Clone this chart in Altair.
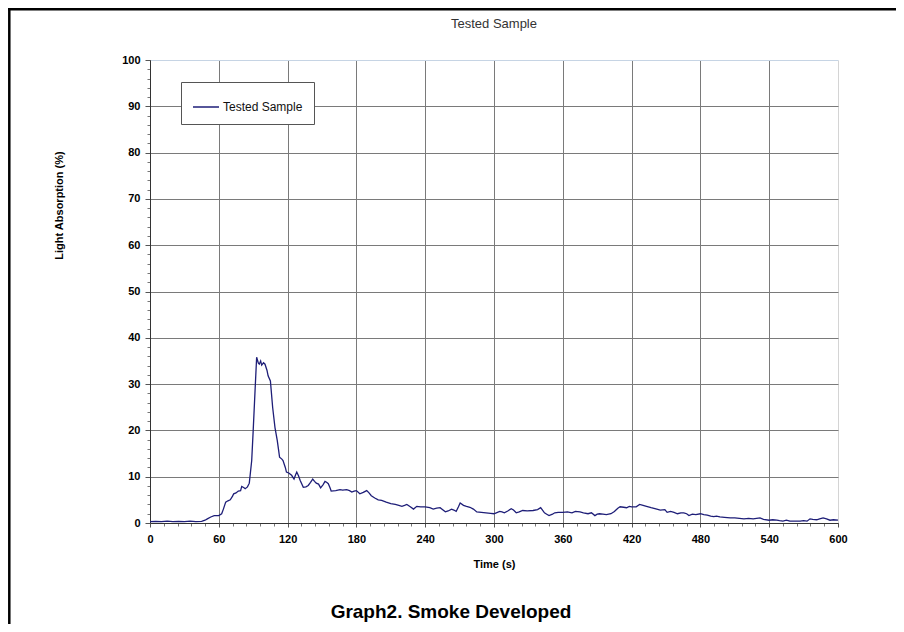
import altair as alt
import pandas as pd

series_name = "Tested Sample"

time_s = [0, 5, 10, 15, 20, 25, 30, 35, 40, 45, 48, 50, 53, 56, 60, 62.5, 64, 66, 68, 70,
          72, 73, 75, 77, 79, 80, 82, 83, 85, 86.6, 88.7, 90, 91.6, 93, 94.5, 95.3, 96.5, 97.4,
          99, 100.3, 102, 103, 105, 107, 109, 111, 112, 113, 115, 116, 118, 119, 121, 123.5,
          125.6, 127, 128, 129.5, 131, 133.7, 136, 138, 140, 141.9, 143.5, 145, 147, 148.8,
          151, 152.6, 154, 155.5, 157, 158, 162, 165.7, 168, 171.5, 174, 176, 178, 180, 183,
          186, 189, 191, 193, 196, 199, 202, 206, 210, 213.9, 217, 219.7, 222, 224, 227,
          229.8, 232.7, 236, 240, 244, 247, 250, 253, 255, 257.6, 260, 263, 265, 267, 269,
          270.5, 273.4, 276, 279, 282, 285, 289, 293, 297, 300, 302, 305, 307, 309, 312, 315,
          317, 319.4, 322, 325, 329, 334, 338, 340.7, 342, 344, 346, 348, 351, 353, 356, 360,
          364, 368, 371, 375, 378, 382, 385, 388, 390, 392, 395, 398, 402, 405, 408, 410, 413,
          415.6, 418, 420, 424, 427, 430, 433, 437, 442, 445, 449, 451, 454, 457, 460, 463,
          465.5, 468, 470, 473, 476, 480, 483, 486, 489, 491.6, 494, 497, 501, 506, 510, 514,
          518, 522, 526, 529, 532, 535, 540, 543, 546.7, 549, 552, 555, 558, 562, 567, 570,
          573, 575.6, 578, 581.4, 584, 587, 590, 593, 596, 600]

absorption = [0.3, 0.35, 0.3, 0.4, 0.3, 0.35, 0.3, 0.4, 0.3, 0.35, 0.6, 0.9, 1.3, 1.6, 1.6, 2.0,
              3.0, 4.5, 4.8, 5.0, 5.8, 6.3, 6.5, 6.9, 7.0, 7.9, 7.6, 7.4, 7.8, 8.6, 13.5, 20.0,
              28.5, 35.8, 34.5, 34.3, 35.0, 34.1, 34.6, 34.3, 33.0, 31.8, 30.7, 24.9, 20.6, 17.8,
              16.0, 14.2, 13.8, 13.5, 12.0, 11.0, 10.8, 10.3, 9.5, 10.4, 11.0, 10.2, 9.2, 7.7,
              7.8, 8.1, 8.8, 9.5, 9.0, 8.6, 8.4, 7.6, 8.3, 9.0, 8.8, 8.5, 7.6, 6.9, 7.0, 7.2,
              7.1, 7.2, 7.0, 6.7, 6.9, 7.0, 6.3, 6.6, 7.0, 6.5, 5.9, 5.4, 5.0, 4.9, 4.5, 4.2,
              4.0, 3.8, 3.6, 3.8, 4.0, 3.5, 3.0, 3.6, 3.5, 3.5, 3.3, 3.0, 3.2, 3.3, 2.9, 2.4,
              2.6, 3.0, 2.8, 2.5, 3.5, 4.3, 3.8, 3.6, 3.4, 3.0, 2.4, 2.3, 2.2, 2.1, 2.0, 2.2,
              2.5, 2.4, 2.2, 2.6, 3.1, 2.8, 2.2, 2.4, 2.7, 2.6, 2.7, 2.9, 3.3, 2.9, 2.2, 1.9,
              1.6, 1.9, 2.2, 2.3, 2.3, 2.4, 2.2, 2.5, 2.4, 2.2, 2.0, 2.2, 1.6, 1.9, 2.0, 1.9,
              1.8, 2.0, 2.5, 3.2, 3.5, 3.4, 3.3, 3.6, 3.5, 3.5, 4.0, 3.8, 3.6, 3.3, 3.0, 2.8,
              2.9, 2.3, 2.5, 2.3, 2.0, 2.2, 2.2, 2.0, 1.6, 1.9, 1.8, 2.0, 1.8, 1.7, 1.5, 1.4,
              1.5, 1.3, 1.2, 1.1, 1.1, 1.0, 0.9, 1.0, 0.9, 1.0, 1.1, 0.8, 0.6, 0.7, 0.6, 0.5,
              0.4, 0.6, 0.4, 0.4, 0.4, 0.5, 0.4, 0.9, 0.8, 0.7, 0.9, 1.1, 0.9, 0.6, 0.7, 0.6]

x_major = [0, 60, 120, 180, 240, 300, 360, 420, 480, 540, 600]
y_major = [0, 10, 20, 30, 40, 50, 60, 70, 80, 90, 100]
x_minor = list(range(0, 601, 12))
y_minor = list(range(0, 101, 2))

chart_title = "Tested Sample"
x_title = "Time (s)"
y_title = "Light Absorption (%)"
caption = "Graph2. Smoke Developed"

FONT = "Liberation Sans"
PAD_L, PAD_T, W, H = 142, 52, 688, 463
TOTAL_W, TOTAL_H = 888, 616

df = pd.DataFrame({"t": time_s, "v": absorption, "s": [series_name] * len(time_s)})

x_scale = alt.Scale(domain=[0, 600], nice=False, zero=False)
y_scale = alt.Scale(domain=[0, 100], nice=False, zero=False)

line = alt.Chart(df).mark_line(strokeWidth=1.3, color="#1e1e78").encode(
    x=alt.X("t:Q", scale=x_scale, axis=alt.Axis(
        orient="bottom", values=x_major, title=x_title, format="d", grid=True,
        labelFont=FONT, labelFontSize=11, labelFontWeight="bold", labelColor="#000",
        labelPadding=6, tickSize=4, tickColor="#555", domainColor="#333",
        titleFont=FONT, titleFontSize=11, titleFontWeight="bold", titleColor="#000",
        titlePadding=14, labelFlush=False,
        gridColor={"condition": {"test": "datum.value === 600", "value": "#d4d4d4"}, "value": "#7a7a7a"},
        gridWidth=1)),
    y=alt.Y("v:Q", scale=y_scale, axis=alt.Axis(
        orient="left", values=y_major, title=y_title, format="d", grid=True,
        labelFont=FONT, labelFontSize=11, labelFontWeight="bold", labelColor="#000",
        labelPadding=5, tickSize=5, tickColor="#555", domainColor="#333",
        titleFont=FONT, titleFontSize=11, titleFontWeight="bold", titleColor="#000",
        titleAngle=270, titleX=-91, titleY=145, titleAlign="center", titleBaseline="middle",
        labelFlush=False,
        gridColor={"condition": {"test": "datum.value === 100", "value": "#c6d4e4"}, "value": "#7a7a7a"},
        gridWidth=1)),
    color=alt.Color("s:N", scale=alt.Scale(range=["#1e1e78"]), legend=alt.Legend(
        title=None, orient="none", legendX=31, legendY=22, padding=11,
        strokeColor="#555", fillColor="#ffffff", symbolType="stroke", symbolSize=676,
        symbolStrokeWidth=1.5, labelFont=FONT, labelFontSize=12, labelColor="#111",
        labelOffset=3)),
)

minor = alt.Chart(df).mark_point(opacity=0).encode(
    x=alt.X("t:Q", scale=x_scale, axis=alt.Axis(
        orient="bottom", values=x_minor, labels=False, grid=False, domain=False,
        tickSize=3, tickColor="#777", title=None)),
    y=alt.Y("v:Q", scale=y_scale, axis=alt.Axis(
        orient="left", values=y_minor, labels=False, grid=False, domain=False,
        tickSize=3, tickColor="#777", title=None)),
)

one = pd.DataFrame({"k": [0]})
frame_left = alt.Chart(one).mark_rule(color="#000", strokeWidth=2.5).encode(
    x=alt.value(1.3 - PAD_L), x2=alt.value(1.3 - PAD_L),
    y=alt.value(-PAD_T), y2=alt.value(TOTAL_H - PAD_T))
frame_top = alt.Chart(one).mark_rule(color="#000", strokeWidth=2.5).encode(
    y=alt.value(1.3 - PAD_T), y2=alt.value(1.3 - PAD_T),
    x=alt.value(-PAD_L), x2=alt.value(TOTAL_W - PAD_L))
title_text = alt.Chart(pd.DataFrame({"c": [chart_title]})).mark_text(
    font=FONT, fontSize=13, fontWeight="normal", color="#333", align="center", baseline="middle"
).encode(text="c:N", x=alt.value(W / 2), y=alt.value(-36))
cap = alt.Chart(pd.DataFrame({"c": [caption]})).mark_text(
    font=FONT, fontSize=19, fontWeight="bold", color="#000", align="center", baseline="middle"
).encode(text="c:N", x=alt.value(301), y=alt.value(552))

chart = alt.layer(minor, line, frame_left, frame_top, title_text, cap).resolve_axis(
    x="independent", y="independent"
).properties(
    width=W, height=H,
    padding={"left": PAD_L, "top": PAD_T, "right": TOTAL_W - PAD_L - W, "bottom": TOTAL_H - PAD_T - H},
    autosize=alt.AutoSizeParams(type="none"),
).configure_view(stroke=None)

chart.save("out.html", embed_options={"renderer": "svg", "actions": False})
